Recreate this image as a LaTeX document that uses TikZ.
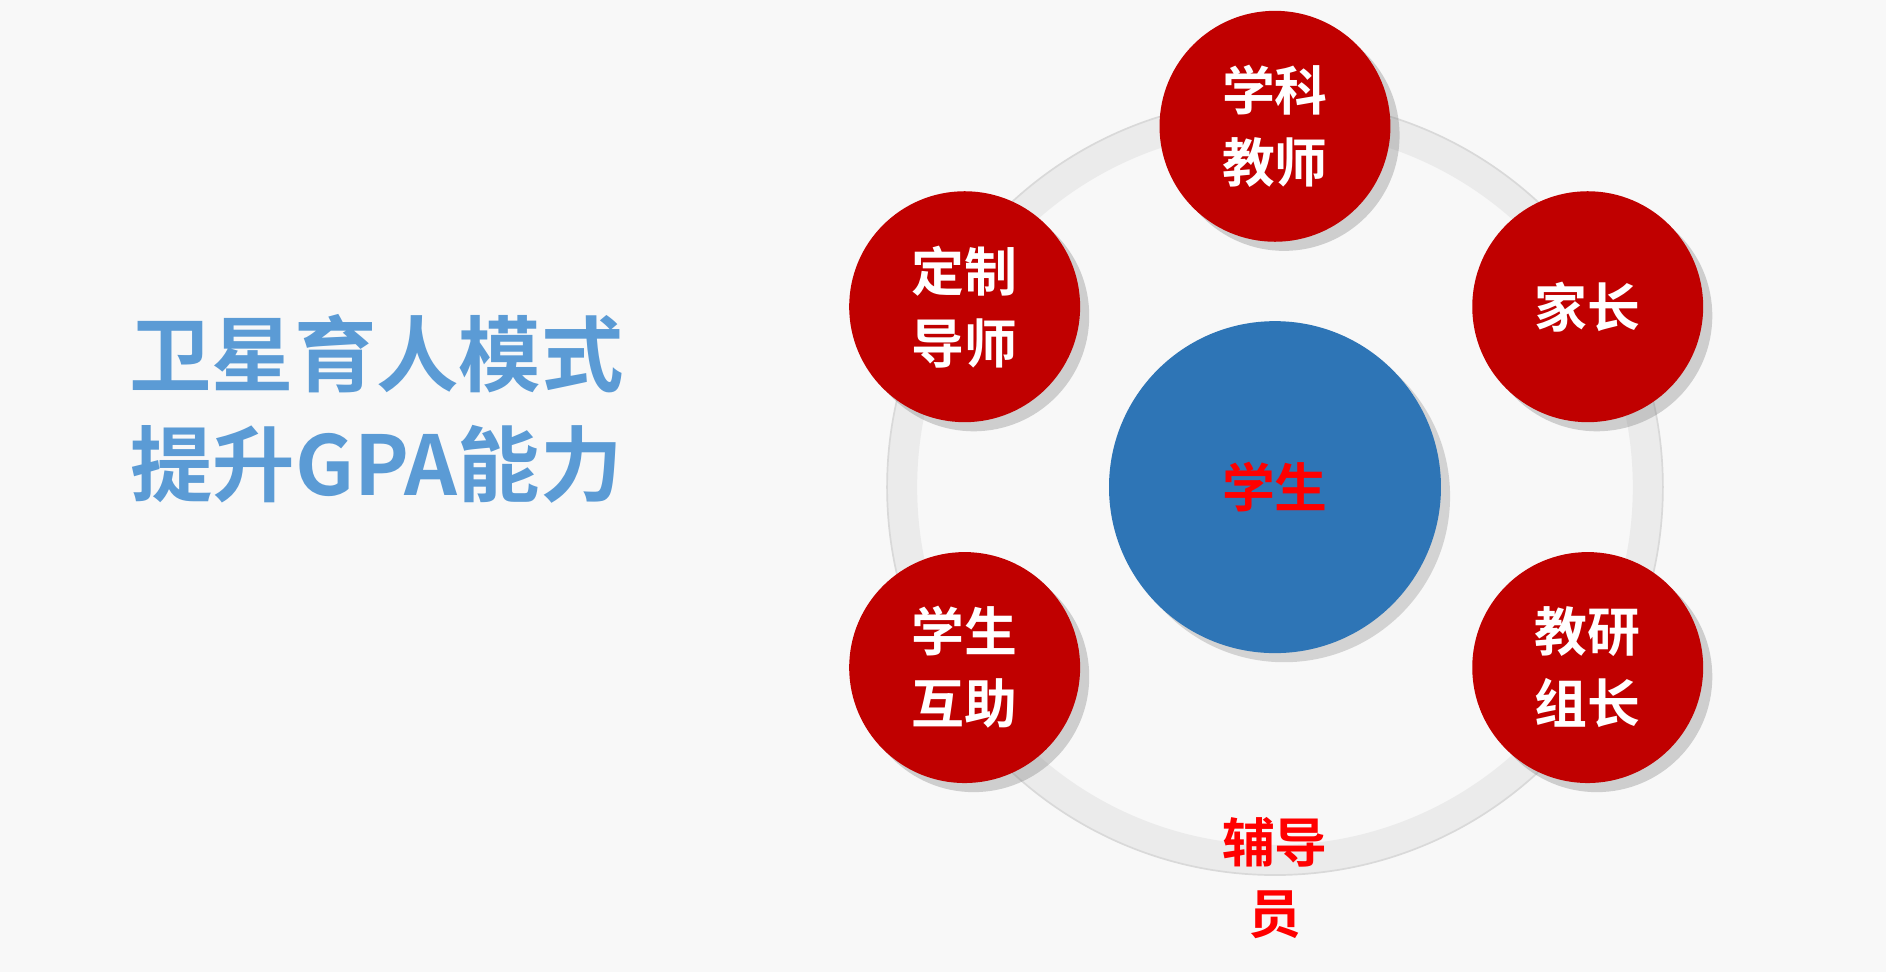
\documentclass[tikz,border=0pt]{standalone}
\usepackage{fontspec}
\newfontfamily\cjk{Noto Sans CJK SC Bold}
\usetikzlibrary{shadows}
\definecolor{bg}{HTML}{F8F8F8}
\definecolor{sat}{HTML}{C00000}
\definecolor{core}{HTML}{2E75B6}
\definecolor{ttl}{HTML}{5B9BD5}
\tikzset{
  satnode/.style={circle,fill=sat,minimum size=1.92cm,inner sep=0pt,align=center,
    text=white,font=\cjk\fontsize{12.5}{17}\selectfont,drop shadow={opacity=0.35}},
}
\begin{document}
\begin{tikzpicture}[>=latex, thick]
        \useasboundingbox[fill=bg](0,0)rectangle(15.68,8.08);
        % ring
        \draw [line width=0.25cm,draw=black!8](10.6,4.03) circle (3.1);
        \draw [line width=0.4pt,draw=black!15](10.6,4.03) circle (3.225);
        % centre
        \node [circle,fill=core,minimum size=2.76cm,text=red,font=\cjk\fontsize{12.5}{17}\selectfont,drop shadow={opacity=0.3}](stu) at (10.6,4.03) {学生};
        % satellites
        \node [satnode](teach) at (10.6,7.03) {学科\\教师};
        \node [satnode](parent) at (13.2,5.53) {家长};
        \node [satnode](lead) at (13.2,2.53) {教研\\组长};
        \node [satnode](peer) at (8.02,2.53) {学生\\互助};
        \node [satnode](tutor) at (8.02,5.53) {定制\\导师};
        \node [text=red,align=center,font=\cjk\fontsize{12.5}{17}\selectfont](coun) at (10.6,0.78) {辅导\\员};
        % title
        \node [text=ttl,align=center,font=\cjk\fontsize{19.5}{26}\selectfont](title) at (3.13,4.68) {卫星育人模式\\提升GPA能力};
    \end{tikzpicture}
\end{document}
